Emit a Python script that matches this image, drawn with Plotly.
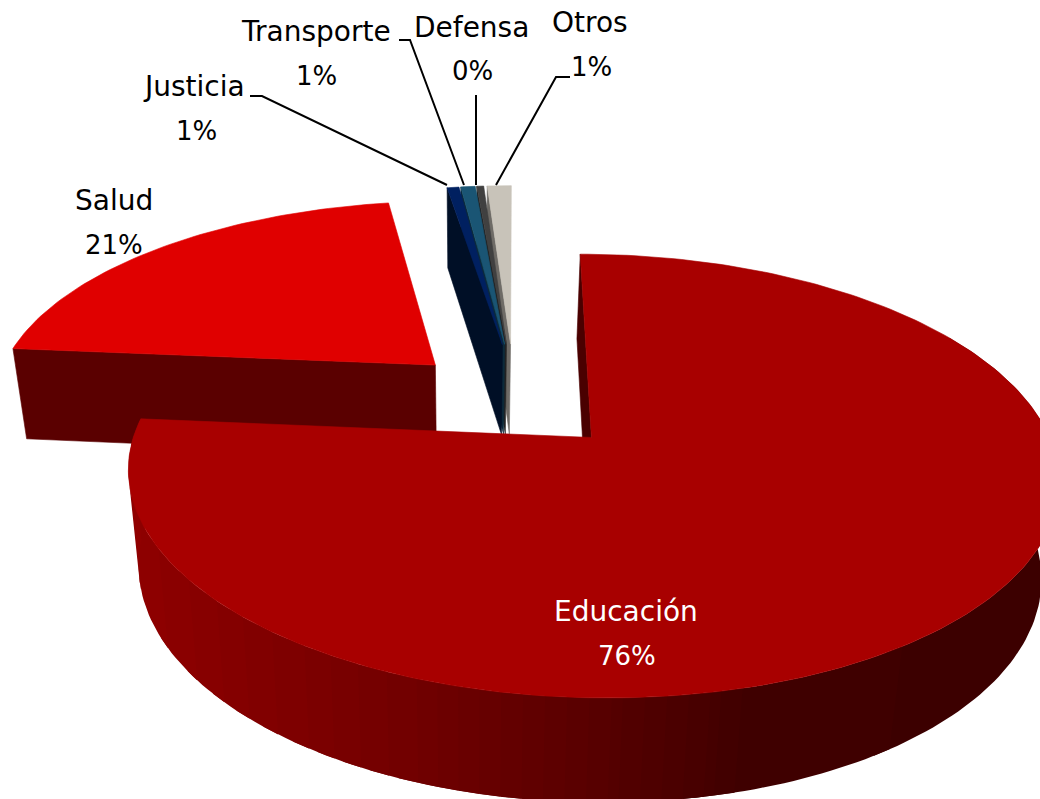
import numpy as np
import plotly.graph_objects as go

categories = ["Educación", "Salud", "Justicia", "Transporte", "Defensa", "Otros"]
values = [76.4, 21.1, 0.52, 0.63, 0.30, 1.05]
percent_labels = ["76%", "21%", "1%", "1%", "0%", "1%"]
explode = [0.23, 0.275, 0.30, 0.30, 0.30, 0.30]
explode_x = [1.06, 0.93, 0.76, 0.86, 1.00, 1.30]
top_colors = ["#a80000", "#e00000", "#002060", "#1a5574", "#404040", "#c8c3b9"]
wall_colors = ["#4a0000", "#5a0000", "#000f26", "#0c2a3a", "#222222", "#6e6b66"]
text_colors = ["white", "black", "black", "black", "black", "black"]
name_xy = [(626, 611), (114, 200), (194, 86), (316, 31), (471, 27), (590, 22)]
pct_xy = [(627, 656), (114, 245), (196, 131), (316, 76), (472, 71), (591, 67)]
leaders = {
    "Justicia": ([250, 262, 447], [96, 96, 185]),
    "Transporte": ([399, 410, 464], [40, 40, 185]),
    "Defensa": ([476, 476], [95, 185]),
    "Otros": ([570, 556, 496], [77, 77, 185]),
}
grad_x = [131, 400, 600, 760, 1040]
grad_r = [0x90, 0x74, 0x58, 0x40, 0x3e]

# projection parameters
AX, AY, A, B, K = 516.0, 402.0, 445.0, 203.0, 0.169
VX, CONV = 470.0, 0.03


def proj(X, Y):
    w = 1 + K * Y
    return AX + A * X / w, AY - B * Y / w


def drop(sx, Y):
    return sx + (VX - sx) * CONV, 93 - 10 * Y


def poly(fig, xs, ys, color, lw=0.6):
    fig.add_trace(go.Scatter(x=xs, y=ys, mode="lines", fill="toself", fillcolor=color,
                             line=dict(color=color, width=lw), hoverinfo="skip", showlegend=False))


fig = go.Figure()
total = sum(values)
edges = np.concatenate([[0], np.cumsum(values)]) / total * 2 * np.pi
slices = []
for i in range(len(values)):
    a0, a1 = edges[i], edges[i + 1]
    mid = (a0 + a1) / 2
    ox, oy = explode[i] * np.sin(mid) * explode_x[i], explode[i] * np.cos(mid)
    th = np.linspace(a0, a1, max(8, int((a1 - a0) * 50)))
    slices.append((ox + np.sin(th), oy + np.cos(th), ox, oy))


def bottom(X, Y):
    sx, sy = proj(X, Y)
    dx, h = drop(sx, Y)
    return dx, sy + h


def radial_wall(i, end):
    X, Y, ox, oy = slices[i]
    ex, ey = X[end], Y[end]
    t1 = proj(ox, oy)
    t2 = proj(ex, ey)
    b2 = bottom(ex, ey)
    b1 = bottom(ox, oy)
    poly(fig, [t1[0], t2[0], b2[0], b1[0], t1[0]], [t1[1], t2[1], b2[1], b1[1], t1[1]], wall_colors[i])


def top_face(i):
    X, Y, ox, oy = slices[i]
    sx, sy = proj(X, Y)
    ax, ay = proj(ox, oy)
    poly(fig, [ax, *sx, ax], [ay, *sy, ay], top_colors[i])


# back slices first: rightmost thin slices up to Justicia, then Salud
for i in [5, 4, 3, 2]:
    radial_wall(i, 0)
for i in [5, 4, 3, 2]:
    top_face(i)
radial_wall(1, 0)
top_face(1)

# Educación: far radial wall, curved wall in shaded strips, then its top
radial_wall(0, 0)
X, Y, ox, oy = slices[0]
sx, sy = proj(X, Y)
bx, by = bottom(X, Y)
front = [j for j in range(len(X) - 1) if Y[j] < 0.35]
# Consecutive strips of one shade are merged and each band runs on under the next,
# so no seams show between them.
shades = [int(np.interp((sx[j] + sx[j + 1]) / 2, grad_x, grad_r)) // 3 * 3 for j in front]
k = 0
while k < len(front):
    m = k
    while m + 1 < len(front) and shades[m + 1] == shades[k]:
        m += 1
    j0, j1 = front[k], min(front[m] + 3, len(X) - 1)
    idx = list(range(j0, j1 + 1))
    xs = list(sx[idx]) + list(bx[idx][::-1]) + [sx[j0]]
    ys = list(sy[idx]) + list(by[idx][::-1]) + [sy[j0]]
    poly(fig, xs, ys, f"rgb({shades[k]},0,0)", lw=0)
    k = m + 1
top_face(0)

for name, (lx, ly) in leaders.items():
    fig.add_trace(go.Scatter(x=lx, y=ly, mode="lines", line=dict(color="black", width=2),
                             hoverinfo="skip", showlegend=False))

font = "DejaVu Sans"
for i, c in enumerate(categories):
    fig.add_annotation(x=name_xy[i][0], y=name_xy[i][1], text=c, showarrow=False, xanchor="center",
                       yanchor="middle", font=dict(family=font, size=28, color=text_colors[i]))
    fig.add_annotation(x=pct_xy[i][0], y=pct_xy[i][1], text=percent_labels[i], showarrow=False,
                       xanchor="center", yanchor="middle", font=dict(family=font, size=26, color=text_colors[i]))

fig.update_layout(width=1040, height=799, margin=dict(l=0, r=0, t=0, b=0),
                  paper_bgcolor="white", plot_bgcolor="white", showlegend=False,
                  xaxis=dict(range=[0, 1040], visible=False, fixedrange=True),
                  yaxis=dict(range=[799, 0], visible=False, fixedrange=True))
fig.write_html("out.html", config=dict(displayModeBar=False),
               post_script="document.body.style.margin='0';document.body.style.overflow='hidden';")
